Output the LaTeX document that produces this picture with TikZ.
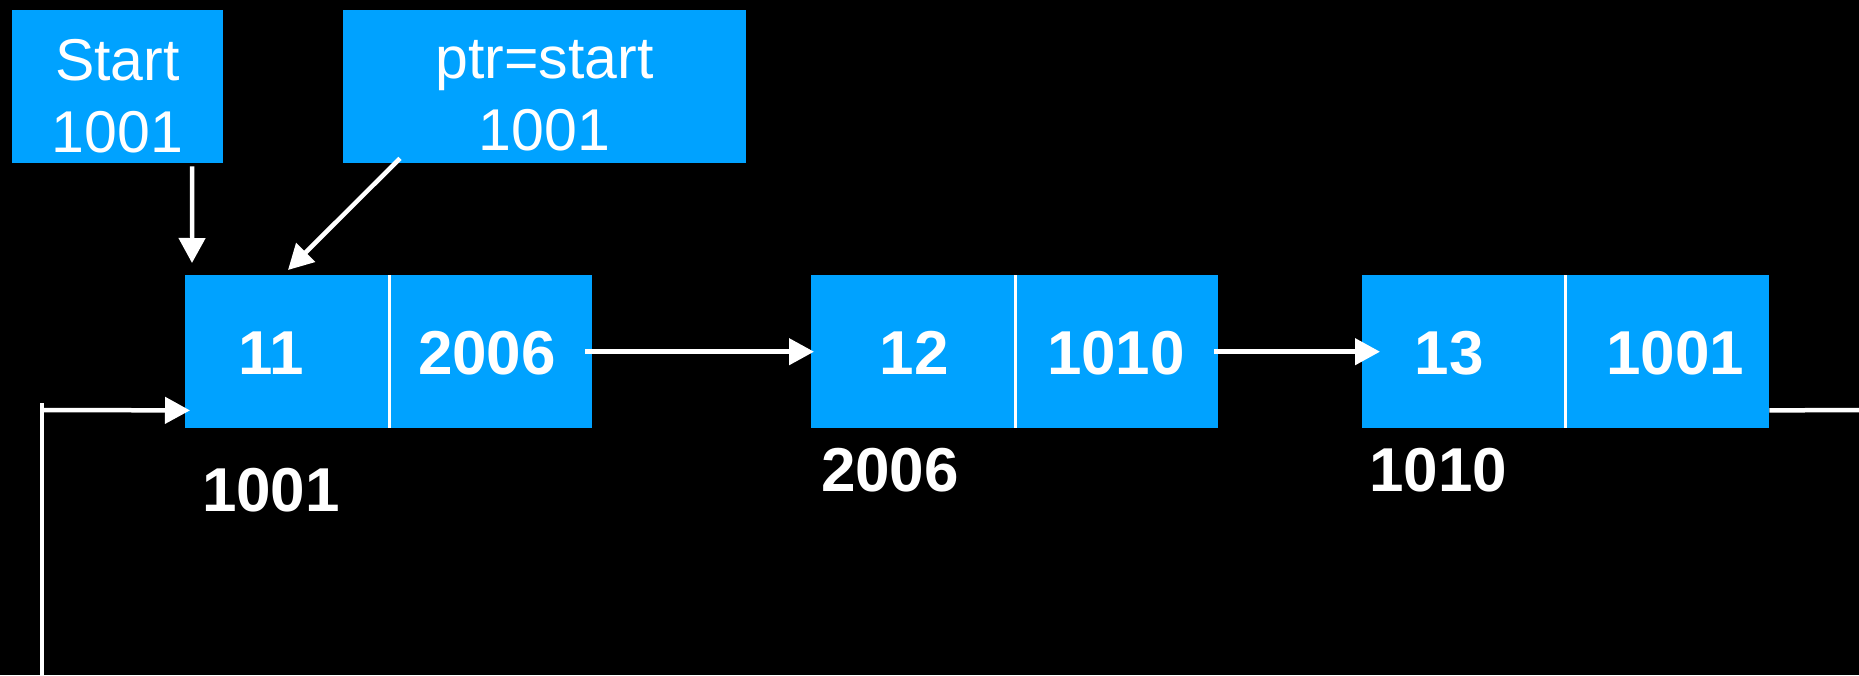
\documentclass[tikz,border=0pt]{standalone}
\usepackage{fontspec}
\setmainfont{Liberation Sans}
\usetikzlibrary{arrows.meta,calc}
\definecolor{cellblue}{RGB}{0,162,255}
\tikzset{
  cell/.style={fill=cellblue, draw=none, inner sep=0pt, minimum width=#1, minimum height=153pt, anchor=north west},
  topbox/.style={fill=cellblue, draw=none, inner sep=0pt, minimum height=153pt, anchor=north west},
  toptext/.style={text=white, inner sep=0pt, align=center, font=\fontsize{59}{72}\selectfont},
  val/.style={text=white, inner sep=0pt, font=\bfseries\fontsize{62}{74}\selectfont},
  divider/.style={draw=white, line width=3pt},
  arr/.style={draw=white, line width=4.5pt, -{Triangle[length=25pt,width=26pt]}},
  wire/.style={draw=white, line width=4.5pt}
}
\begin{document}
\begin{tikzpicture}[x=1pt,y=-1pt]
\fill[black] (0,0) rectangle (1859,675);
\useasboundingbox (0,0) rectangle (1859,675);

% top pointer boxes
\node[topbox, minimum width=211pt] (start) at (12,10) {};
\node[toptext] (starttext) at (117.5,96) {Start\\1001};
\node[topbox, minimum width=403pt] (ptr) at (343,10) {};
\node[toptext] (ptrtext) at (544.5,96) {ptr=start\\1001};

% list nodes
\node[cell=204pt] (n1a) at (185,275) {};
\node[cell=203pt] (n1b) at (389,275) {};
\node[cell=204pt] (n2a) at (811,275) {};
\node[cell=203pt] (n2b) at (1015,275) {};
\node[cell=203pt] (n3a) at (1362,275) {};
\node[cell=204pt] (n3b) at (1565,275) {};

\draw[divider] (n1a.north east) -- (n1a.south east);
\draw[divider] (n2a.north east) -- (n2a.south east);
\draw[divider] (n3a.north east) -- (n3a.south east);

\node[val] (v11) at (271,353) {11};
\node[val] (v2006) at (487,353) {2006};
\node[val] (v12) at (914,353) {12};
\node[val] (v1010) at (1116,353) {1010};
\node[val] (v13) at (1449,353) {13};
\node[val] (v1001) at (1675,353) {1001};

% address labels
\node[val] (a1) at (271,490) {1001};
\node[val] (a2) at (890,470) {2006};
\node[val] (a3) at (1438,470) {1010};

% pointer arrows
\draw[arr] ([xshift=74.5pt,yshift=-3pt]start.south) -- ([xshift=7pt,yshift=12pt]n1a.north west);
\draw[arr] ([xshift=57pt,yshift=5pt]ptr.south west) -- ([xshift=103pt,yshift=5pt]n1a.north west);

% next links
\draw[arr] ([xshift=-7pt]n1b.east) -- ([xshift=3pt]n2a.west);
\draw[arr] ([xshift=-4pt]n2b.east) -- ([xshift=18pt]n3a.west);

% wrap-around link
\coordinate (rend) at (1859,410);
\coordinate (lbot) at (42,675);
\coordinate (ltop) at (42,403);
\coordinate (lcorner) at (42,410);
\draw[wire] ([yshift=18pt]n3b.south east) -- (rend);
\draw[wire] (lbot) -- (ltop);
\draw[arr] (lcorner) -- ([xshift=5pt,yshift=18pt]n1a.south west);
\end{tikzpicture}
\end{document}
